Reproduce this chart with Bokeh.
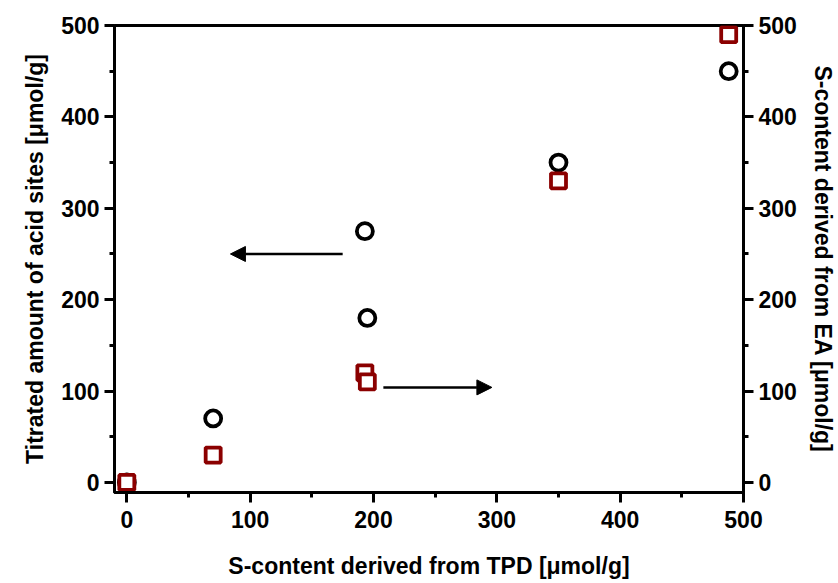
from bokeh.plotting import figure
from bokeh.models import Range1d, LinearAxis, SingleIntervalTicker, Arrow, NormalHead
from bokeh.embed import file_html
from bokeh.resources import INLINE

# Data
tpd_circles = [0, 70, 193, 195, 350, 488]
acid_sites = [0, 70, 275, 180, 350, 450]
tpd_squares = [0, 70, 193, 195, 350, 488]
ea_content = [0, 30, 120, 110, 330, 490]
x_ticks = [0, 100, 200, 300, 400, 500]
y_ticks = [0, 100, 200, 300, 400, 500]
left_arrow = [175, 250, 84, 250]    # x_start, y_start, x_end, y_end (left axis units)
right_arrow = [208, 104, 296, 104]  # (right axis units)

FONT = "Liberation Sans"

p = figure(width=838, height=583, output_backend="svg", toolbar_location=None,
           x_range=Range1d(-10, 500), y_range=Range1d(-11, 500),
           min_border_left=114, min_border_right=94, min_border_top=25, min_border_bottom=91)
p.extra_y_ranges = {"right": Range1d(-11, 500)}

p.grid.visible = False
p.outline_line_color = "black"
p.outline_line_width = 3

def style(ax):
    ax.ticker = SingleIntervalTicker(interval=100, num_minor_ticks=2)
    ax.axis_line_width = 3
    ax.major_tick_line_width = 3
    ax.minor_tick_line_width = 3
    ax.major_tick_out = 10
    ax.major_tick_in = 0
    ax.minor_tick_out = 5
    ax.minor_tick_in = 0
    ax.major_label_text_font = FONT
    ax.major_label_text_font_style = "bold"
    ax.major_label_text_font_size = "23px"
    ax.major_label_text_color = "black"
    ax.axis_label_text_font = FONT
    ax.axis_label_text_font_style = "bold"
    ax.axis_label_text_font_size = "23px"
    ax.axis_label_text_color = "black"

xa = p.xaxis[0]
style(xa)
xa.axis_label = "S-content derived from TPD [μmol/g]"
xa.major_label_standoff = 8
xa.axis_label_standoff = 22

ya = p.yaxis[0]
style(ya)
ya.axis_label = "Titrated amount of acid sites [μmol/g]"
ya.major_label_standoff = 5
ya.axis_label_standoff = 10

ra = LinearAxis(y_range_name="right")
style(ra)
ra.axis_label = "S-content derived from EA [μmol/g]"
ra.major_label_standoff = 5
ra.axis_label_standoff = 10
p.add_layout(ra, "right")

p.scatter(tpd_circles, acid_sites, marker="circle", size=16, line_width=3.8,
          line_color="black", fill_color="white")
p.scatter(tpd_squares, ea_content, marker="square", size=15, line_width=3.8,
          line_color="#8B0000", fill_color="white", y_range_name="right")

p.add_layout(Arrow(end=NormalHead(size=15, fill_color="black", line_color="black", line_width=1),
                   x_start=left_arrow[0], y_start=left_arrow[1], x_end=left_arrow[2], y_end=left_arrow[3],
                   line_width=2.5, line_color="black"))
p.add_layout(Arrow(end=NormalHead(size=15, fill_color="black", line_color="black", line_width=1),
                   x_start=right_arrow[0], y_start=right_arrow[1], x_end=right_arrow[2], y_end=right_arrow[3],
                   line_width=2.5, line_color="black", y_range_name="right"))

open("out.html", "w").write(file_html(p, INLINE))
